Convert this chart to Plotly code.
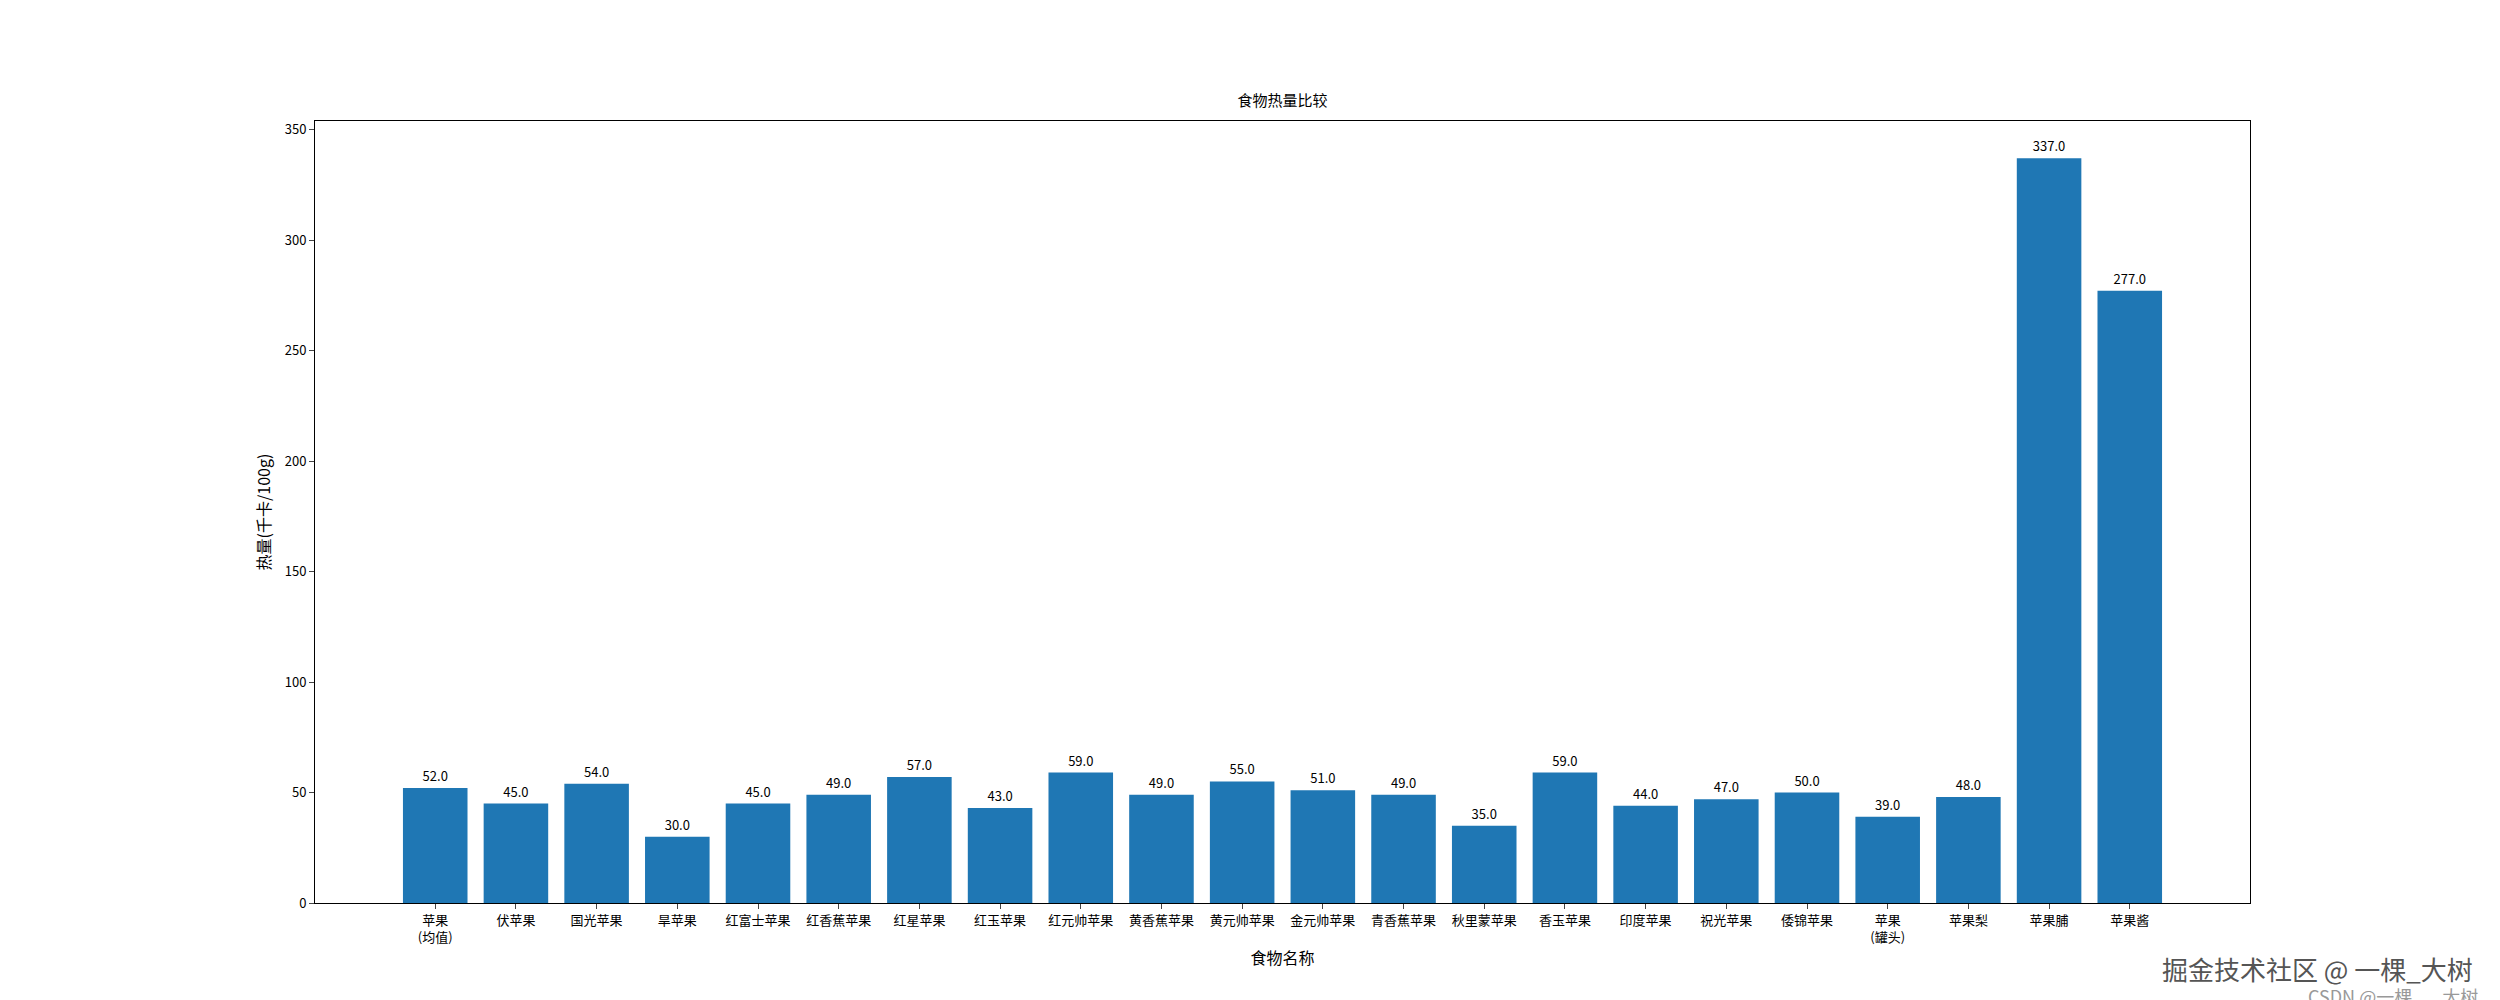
import plotly.graph_objects as go

foods = ["苹果<br>(均值)", "伏苹果", "国光苹果", "旱苹果", "红富士苹果", "红香蕉苹果", "红星苹果", "红玉苹果",
         "红元帅苹果", "黄香蕉苹果", "黄元帅苹果", "金元帅苹果", "青香蕉苹果", "秋里蒙苹果", "香玉苹果",
         "印度苹果", "祝光苹果", "倭锦苹果", "苹果<br>(罐头)", "苹果梨", "苹果脯", "苹果酱"]
calories = [52, 45, 54, 30, 45, 49, 57, 43, 59, 49, 55, 51, 49, 35, 59, 44, 47, 50, 39, 48, 337, 277]
yticks = [0, 50, 100, 150, 200, 250, 300, 350]

font = "Noto Sans CJK SC"
x = list(range(len(foods)))
fig = go.Figure(go.Bar(
    x=x, y=calories, width=0.8, marker=dict(color="#1f77b4", line=dict(width=0)),
    text=[f"{v:.1f}" for v in calories], textposition="outside", cliponaxis=False,
    textfont=dict(size=13, color="black", family=font),
))
fig.update_layout(
    width=2500, height=1000, paper_bgcolor="white", plot_bgcolor="white",
    margin=dict(l=307, r=258, t=113, b=105), showlegend=False,
    font=dict(family=font, size=13, color="black"),
    title=dict(text="食物热量比较", x=(307 + 2242) / 2 / 2500, xanchor="center", y=1 - 98 / 1000, yanchor="bottom",
               font=dict(size=15)),
    xaxis=dict(tickmode="array", tickvals=x, ticktext=foods, range=[-1.49, 22.49],
               showline=True, linecolor="black", mirror=True, ticks="outside", ticklen=5,
               title=dict(text="食物名称", standoff=8), showgrid=False, zeroline=False),
    yaxis=dict(tickvals=yticks, range=[0, 353.85], showline=True, linecolor="black", mirror=True,
               ticks="outside", ticklen=5, title=dict(text="热量(千卡/100g)", standoff=10),
               showgrid=False, zeroline=False),
    annotations=[
        dict(text="掘金技术社区 @ 一棵_大树", xref="paper", yref="paper", x=1 + 225 / 1935, y=-45 / 782,
             xanchor="right", yanchor="top", showarrow=False, font=dict(size=26, color="#555")),
        dict(text="CSDN @一棵___大树", xref="paper", yref="paper", x=1 + 230 / 1935, y=-78 / 782,
             xanchor="right", yanchor="top", showarrow=False, font=dict(size=18, color="#999")),
    ],
)
fig.write_html("out.html")
